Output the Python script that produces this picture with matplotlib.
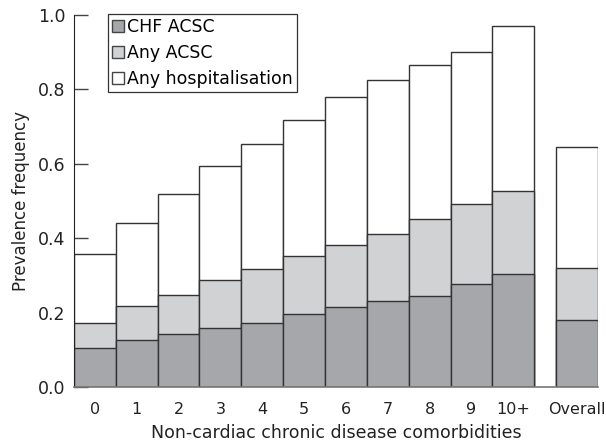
import numpy as np
import matplotlib
matplotlib.use("Agg")
import matplotlib.pyplot as plt

# Datos
categorias = ['0', '1', '2', '3', '4', '5', '6', '7', '8', '9', '10+', 'Overall']
chf_acsc = [0.105, 0.127, 0.143, 0.159, 0.172, 0.196, 0.215, 0.230, 0.245, 0.278, 0.304, 0.179]
any_acsc = [0.172, 0.219, 0.247, 0.287, 0.316, 0.353, 0.381, 0.412, 0.451, 0.493, 0.527, 0.321]
any_hosp = [0.357, 0.442, 0.520, 0.594, 0.654, 0.719, 0.780, 0.825, 0.867, 0.901, 0.971, 0.646]

# posiciones: 11 barras contiguas y "Overall" separado
x = np.append(np.arange(11), 11.525)

fig = plt.figure(figsize=(6.06, 4.42), dpi=100)
ax = fig.add_axes([0.122, 0.1244, 0.865, 0.8416])
ax.set_axisbelow(True)

borde = '#333333'
ax.bar(x, any_hosp, width=1.0, color='white', edgecolor=borde, linewidth=1.0, label='Any hospitalisation')
ax.bar(x, any_acsc, width=1.0, color='#d1d2d4', edgecolor=borde, linewidth=1.0, label='Any ACSC')
ax.bar(x, chf_acsc, width=1.0, color='#a6a7ab', edgecolor=borde, linewidth=1.0, label='CHF ACSC')

ax.set_xlim(-0.5, 12.025)
ax.set_ylim(0, 1.0)
ax.set_yticks([0.0, 0.2, 0.4, 0.6, 0.8, 1.0])
ax.set_yticklabels(['0.0', '0.2', '0.4', '0.6', '0.8', '1.0'], fontsize=12.5, color='#222222')
ax.set_xticks(x)
ax.set_xticklabels(categorias, fontsize=11.5, color='#222222')
ax.tick_params(axis='x', length=0, pad=11)
ax.tick_params(axis='y', direction='in', length=10, width=1, color='#444444', pad=6)

for lado in ['top', 'right']:
    ax.spines[lado].set_visible(False)
ax.spines['left'].set_color('#222222')
ax.spines['bottom'].set_color('#777777')
ax.spines['bottom'].set_linewidth(1.2)

ax.set_ylabel('Prevalence frequency', fontsize=12, labelpad=6, color='#222222')
ax.set_xlabel('Non-cardiac chronic disease comorbidities', fontsize=12.5, labelpad=5, color='#222222')

handles, labels = ax.get_legend_handles_labels()
leg = ax.legend(handles[::-1], labels[::-1], loc='upper left', bbox_to_anchor=(0.065, 1.003),
                fontsize=12.5, frameon=True, fancybox=False, framealpha=1, edgecolor='#333333',
                handlelength=0.65, handleheight=0.65, handletextpad=0.2, labelspacing=0.45,
                borderpad=0.25, borderaxespad=0)
leg.get_frame().set_linewidth(0.9)
for h in leg.legend_handles:
    h.set_edgecolor('#444444')

fig.savefig('out.png', dpi=100)
